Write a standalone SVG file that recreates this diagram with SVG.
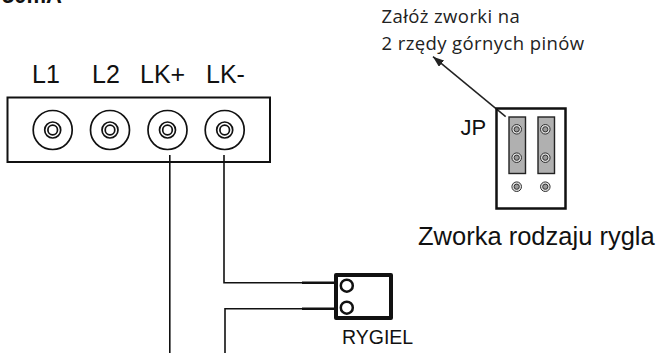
<svg xmlns="http://www.w3.org/2000/svg" width="658" height="353" viewBox="0 0 658 353">
<style>
.a{font-family:"Liberation Sans",Arial,sans-serif;fill:#111}
.b{font-family:"Open Sans","Noto Sans",sans-serif;fill:#222;letter-spacing:.4px}
.w{fill:none;stroke:#111;stroke-width:1.6}
.t{fill:#fff;stroke:#111;stroke-width:1.7}
.j{fill:#b0b0b0;stroke:#222;stroke-width:1.4}
</style>
<defs>
<g id="term"><circle r="19.500" class="t"/><circle r="8" class="t"/><circle r="4.800" class="t"/></g>
<g id="pin"><circle r="4.800" fill="#ddd" stroke="#333" stroke-width="1"/><circle r="2.600" fill="#999" stroke="#333" stroke-width="1"/></g>
<marker id="arr" markerUnits="userSpaceOnUse" markerWidth="12" markerHeight="9" refX="11" refY="4" orient="auto"><path d="M0 0L11 4L0 8z" fill="#222"/></marker>
</defs>
<text class="a" x="2" y="3" font-size="22" font-weight="bold">50mA</text>
<g id="terminal-block">
<rect x="7.500" y="97.500" width="262.500" height="64.500" fill="#fff" stroke="#111" stroke-width="2"/>
<use href="#term" x="52.700" y="130"/>
<use href="#term" x="110" y="130"/>
<use href="#term" x="167.500" y="130"/>
<use href="#term" x="224.700" y="130"/>
<text class="a" x="32" y="83" font-size="25">L1</text>
<text class="a" x="92" y="83" font-size="25">L2</text>
<text class="a" x="140" y="83" font-size="25">LK+</text>
<text class="a" x="206" y="83" font-size="25">LK-</text>
</g>
<g id="rygiel">
<rect x="336" y="275" width="55" height="43" fill="#fff" stroke="#111" stroke-width="4" stroke-linejoin="round"/>
<circle cx="346.800" cy="285.700" r="6" fill="#fff" stroke="#111" stroke-width="2.500"/>
<circle cx="346.800" cy="307.700" r="6" fill="#fff" stroke="#111" stroke-width="2.500"/>
<text class="a" x="342" y="344" font-size="19.500">RYGIEL</text>
</g>
<g id="connectors">
<path class="w" d="M169.800 155V353"/>
<path class="w" d="M224 155V282.700H302"/>
<path class="w" d="M225 353V308.700H302"/>
<path fill="none" stroke="#111" stroke-width="2.500" d="M302 282.700H335M302 308.700H335"/>
<path fill="none" stroke="#222" stroke-width="1.500" d="M505.700 116.700L433 56.700" marker-end="url(#arr)"/>
</g>
<g id="jp">
<rect x="496.500" y="108.500" width="69" height="100" fill="none" stroke="#111" stroke-width="2.500"/>
<rect x="509" y="117" width="16.500" height="56.500" class="j"/>
<rect x="538" y="117" width="16.500" height="56.500" class="j"/>
<use href="#pin" x="516.700" y="129.300"/><use href="#pin" x="545.300" y="129.300"/>
<use href="#pin" x="516.700" y="157.700"/><use href="#pin" x="545.300" y="157.700"/>
<use href="#pin" x="516.700" y="186.700"/><use href="#pin" x="545.300" y="186.700"/>
<text class="a" x="460.500" y="135" font-size="22">JP</text>
</g>
<text class="b" x="381.500" y="23" font-size="18.500">Załóż zworki na</text>
<text class="b" x="381.500" y="49.500" font-size="18.500">2 rzędy górnych pinów</text>
<text class="a" x="418" y="245" font-size="25.500">Zworka rodzaju rygla</text>
</svg>
